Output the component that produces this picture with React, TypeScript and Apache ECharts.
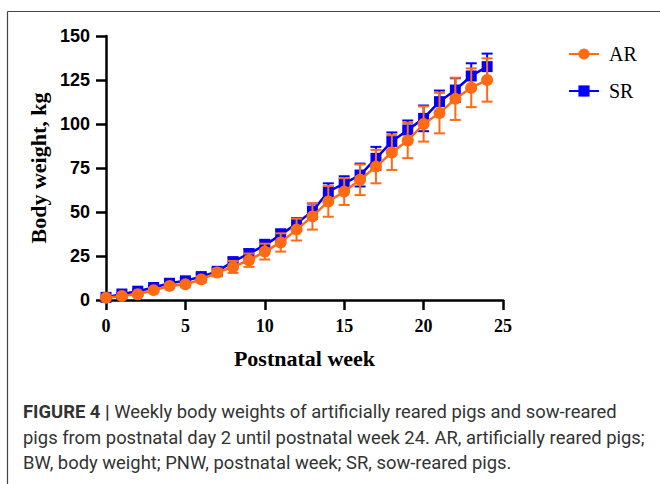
import React, { useEffect, useRef } from "react";
import * as echarts from "echarts";

const weeks = [0, 1, 2, 3, 4, 5, 6, 7, 8, 9, 10, 11, 12, 13, 14, 15, 16, 17, 18, 19, 20, 21, 22, 23, 24];
const arMean = [1.3, 2.3, 3.3, 5.6, 8.0, 8.9, 11.7, 15.6, 18.8, 22.6, 27.5, 32.7, 40.0, 47.5, 56.0, 61.6, 68.3, 75.8, 83.8, 90.6, 100.0, 106.2, 114.3, 120.6, 125.0];
const arSd = [0.4, 0.5, 0.7, 0.9, 1.2, 1.3, 1.6, 2.2, 3.4, 3.8, 4.5, 5.2, 6.2, 7.5, 8.7, 7.6, 8.7, 9.5, 9.9, 10.0, 10.0, 11.5, 12.0, 11.0, 12.3];
const srMean = [1.5, 3.4, 5.0, 7.1, 9.5, 10.9, 13.3, 16.3, 21.8, 26.3, 31.2, 37.0, 43.5, 50.5, 61.5, 66.3, 71.0, 80.5, 90.0, 96.6, 103.2, 112.7, 119.3, 127.3, 132.6];
const srSd = [0.4, 0.6, 0.8, 1.0, 1.2, 1.4, 1.6, 1.8, 2.2, 2.6, 3.0, 3.2, 3.0, 4.3, 4.8, 4.0, 6.5, 6.5, 5.2, 5.4, 7.3, 6.3, 6.7, 7.2, 7.4];
const yTicks = [0, 25, 50, 75, 100, 125, 150];
const xTicks = [0, 5, 10, 15, 20, 25];

const AR_COLOR = "#FF6A13";
const SR_COLOR = "#0000FF";

function errorSeries(name: string, mean: number[], sd: number[], color: string, z: number) {
  return {
    type: "custom",
    name,
    z,
    silent: true,
    data: weeks.map((w, i) => [w, mean[i] - sd[i], mean[i] + sd[i]]),
    encode: { x: 0, y: [1, 2] },
    renderItem: (_params: any, api: any) => {
      const x = api.value(0);
      const lo = api.coord([x, api.value(1)]);
      const hi = api.coord([x, api.value(2)]);
      const half = 5.5;
      const st = { stroke: color, lineWidth: 2 };
      return {
        type: "group",
        children: [
          { type: "line", shape: { x1: hi[0], y1: hi[1], x2: lo[0], y2: lo[1] }, style: st },
          { type: "line", shape: { x1: hi[0] - half, y1: hi[1], x2: hi[0] + half, y2: hi[1] }, style: st },
          { type: "line", shape: { x1: lo[0] - half, y1: lo[1], x2: lo[0] + half, y2: lo[1] }, style: st },
        ],
      };
    },
  };
}

export default function App() {
  const ref = useRef<HTMLDivElement>(null);
  useEffect(() => {
    document.body.style.margin = "0";
    const chart = echarts.init(ref.current!, null, { renderer: "svg" });
    const axisLineStyle = { color: "#000", width: 2.5 };
    chart.setOption({
      animation: false,
      backgroundColor: "#fff",
      grid: { left: 106, right: 157, top: 36, bottom: 184, containLabel: false },
      legend: {
        orient: "vertical",
        left: 563,
        top: 39,
        data: ["AR", "SR"],
        itemWidth: 30,
        itemHeight: 14,
        itemGap: 17,
        textStyle: { fontFamily: "Liberation Serif", fontSize: 20, color: "#000", padding: [0, 0, 0, 5] },
      },
      xAxis: {
        type: "value",
        min: xTicks[0],
        max: xTicks[xTicks.length - 1],
        interval: 5,
        name: "Postnatal week",
        nameLocation: "middle",
        nameGap: 47,
        nameTextStyle: { fontFamily: "Liberation Serif", fontWeight: "bold", fontSize: 22, color: "#000" },
        axisLine: { show: true, lineStyle: axisLineStyle },
        axisTick: { show: true, length: 10, lineStyle: axisLineStyle },
        axisLabel: { fontFamily: "Liberation Serif", fontWeight: "bold", fontSize: 18, color: "#000", margin: 17 },
        splitLine: { show: false },
      },
      yAxis: {
        type: "value",
        min: yTicks[0],
        max: yTicks[yTicks.length - 1],
        interval: 25,
        name: "Body weight, kg",
        nameLocation: "middle",
        nameGap: 53,
        nameTextStyle: { fontFamily: "Liberation Serif", fontWeight: "bold", fontSize: 22, color: "#000" },
        axisLine: { show: true, lineStyle: axisLineStyle },
        axisTick: { show: true, length: 10, lineStyle: axisLineStyle },
        axisLabel: { fontFamily: "Liberation Sans", fontWeight: "bold", fontSize: 18, color: "#000", margin: 16 },
        splitLine: { show: false },
      },
      series: [
        errorSeries("SR err", srMean, srSd, SR_COLOR, 2),
        {
          type: "line",
          name: "SR",
          z: 3,
          data: weeks.map((w, i) => [w, srMean[i]]),
          symbol: "rect",
          symbolSize: 11,
          lineStyle: { color: SR_COLOR, width: 2.5 },
          itemStyle: { color: SR_COLOR },
        },
        errorSeries("AR err", arMean, arSd, AR_COLOR, 4),
        {
          type: "line",
          name: "AR",
          z: 5,
          data: weeks.map((w, i) => [w, arMean[i]]),
          symbol: "circle",
          symbolSize: 12,
          lineStyle: { color: AR_COLOR, width: 2.5 },
          itemStyle: { color: AR_COLOR },
        },
      ],
      graphic: [
        { type: "line", shape: { x1: 7.5, y1: 11.5, x2: 660, y2: 11.5 }, style: { stroke: "#444", lineWidth: 1.2 } },
        { type: "line", shape: { x1: 7.5, y1: 11.5, x2: 7.5, y2: 484 }, style: { stroke: "#444", lineWidth: 1.2 } },
        {
          type: "text",
          left: 23,
          top: 399,
          style: {
            text: "{b|FIGURE 4 |} Weekly body weights of artificially reared pigs and sow-reared\npigs from postnatal day 2 until postnatal week 24. AR, artificially reared pigs;\nBW, body weight; PNW, postnatal week; SR, sow-reared pigs.",
            fontFamily: "Roboto",
            fontSize: 18.4,
            lineHeight: 25.5,
            fill: "#333",
            rich: {
              b: { fontFamily: "Roboto", fontWeight: "bold", fontSize: 18.4, lineHeight: 25.5, fill: "#333" },
            },
          },
        },
      ],
    });
    return () => chart.dispose();
  }, []);
  return <div ref={ref} style={{ width: 660, height: 484 }} />;
}
